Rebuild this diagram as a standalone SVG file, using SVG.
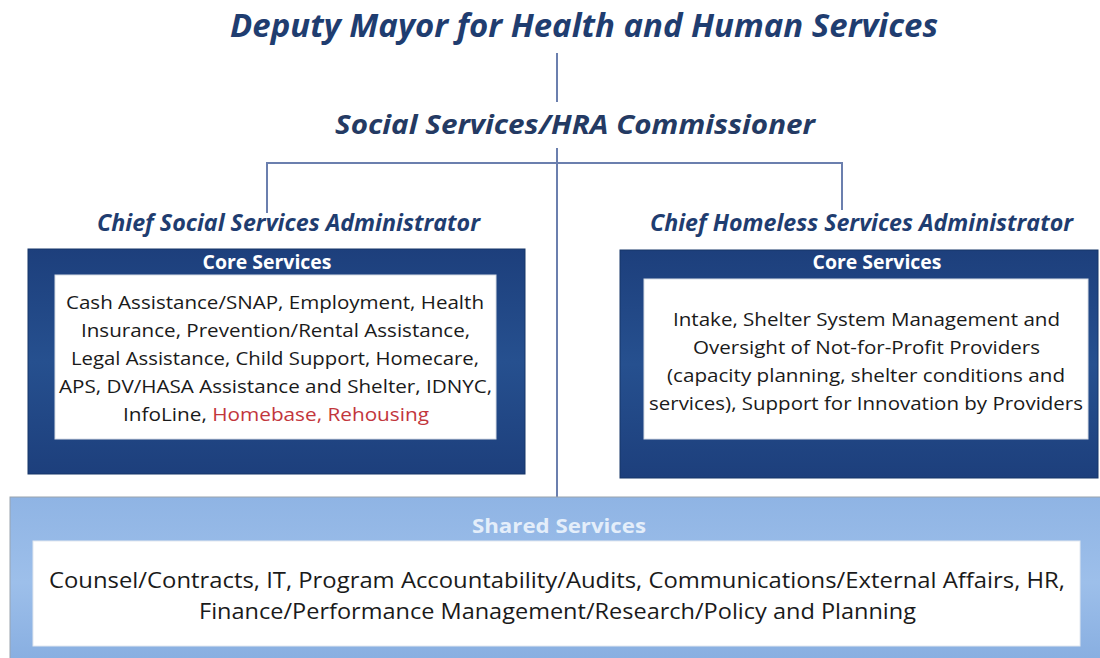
<svg xmlns="http://www.w3.org/2000/svg" width="1100" height="658" viewBox="0 0 1100 658">
<defs>
<style>
.title{font-family:"Open Sans","Liberation Sans",sans-serif;font-weight:bold;font-style:italic;fill:#1f3d70;text-anchor:middle}
.hdr{font-family:"Open Sans","Liberation Sans",sans-serif;font-weight:bold;fill:#ffffff;text-anchor:middle;font-size:19px}
.body{font-family:"Open Sans","Liberation Sans",sans-serif;fill:#1a1a1a;text-anchor:middle;font-size:19px}
.red{fill:#c2363c}
.conn{stroke:#6b7fae;stroke-width:2;fill:none}
.dark{fill:url(#gDark);stroke:#173669;stroke-width:1}
.inner{fill:#ffffff;stroke:#d8dde6;stroke-width:1}
</style>
<linearGradient id="gDark" x1="0" y1="0" x2="0" y2="1">
<stop offset="0" stop-color="#1d3f7c"/>
<stop offset="0.5" stop-color="#26508f"/>
<stop offset="1" stop-color="#1d3f7c"/>
</linearGradient>
<linearGradient id="gLight" x1="0" y1="0" x2="0" y2="1">
<stop offset="0" stop-color="#8fb4e4"/>
<stop offset="0.5" stop-color="#9dbfea"/>
<stop offset="1" stop-color="#86ade0"/>
</linearGradient>
</defs>
<rect width="1100" height="658" fill="#ffffff"/>

<g id="connectors">
<line class="conn" x1="557" y1="53" x2="557" y2="102"/>
<line class="conn" x1="557" y1="148" x2="557" y2="497"/>
<polyline class="conn" points="267,213 267,163 842,163 842,210"/>
</g>

<g id="deputy-mayor">
<text class="title" x="584" y="37" font-size="32" textLength="708" lengthAdjust="spacingAndGlyphs">Deputy Mayor for Health and Human Services</text>
</g>

<g id="commissioner">
<text class="title" x="575" y="134" font-size="27" fill="#243a63" textLength="480" lengthAdjust="spacingAndGlyphs" style="fill:#243a63">Social Services/HRA Commissioner</text>
</g>

<g id="chief-social">
<text class="title" x="288.5" y="231" font-size="23" textLength="383" lengthAdjust="spacingAndGlyphs">Chief Social Services Administrator</text>
<rect class="dark" x="28" y="249" width="497" height="225"/>
<text class="hdr" x="267" y="269" textLength="129" lengthAdjust="spacingAndGlyphs">Core Services</text>
<rect class="inner" x="55" y="275" width="441" height="164"/>
<text class="body" x="275" y="309" textLength="418" lengthAdjust="spacingAndGlyphs">Cash Assistance/SNAP, Employment, Health</text>
<text class="body" x="275.5" y="337" textLength="389" lengthAdjust="spacingAndGlyphs">Insurance, Prevention/Rental Assistance,</text>
<text class="body" x="275" y="365" textLength="408" lengthAdjust="spacingAndGlyphs">Legal Assistance, Child Support, Homecare,</text>
<text class="body" x="275.5" y="393" textLength="433" lengthAdjust="spacingAndGlyphs">APS, DV/HASA Assistance and Shelter, IDNYC,</text>
<text class="body" x="276" y="421" textLength="306" lengthAdjust="spacingAndGlyphs">InfoLine, <tspan class="red">Homebase, Rehousing</tspan></text>
</g>

<g id="chief-homeless">
<text class="title" x="861.5" y="231" font-size="23" textLength="423" lengthAdjust="spacingAndGlyphs">Chief Homeless Services Administrator</text>
<rect class="dark" x="620" y="250" width="478" height="228"/>
<text class="hdr" x="877" y="269" textLength="129" lengthAdjust="spacingAndGlyphs">Core Services</text>
<rect class="inner" x="644" y="279" width="444" height="160"/>
<text class="body" x="866.5" y="326" textLength="387" lengthAdjust="spacingAndGlyphs">Intake, Shelter System Management and</text>
<text class="body" x="866.5" y="354" textLength="347" lengthAdjust="spacingAndGlyphs">Oversight of Not-for-Profit Providers</text>
<text class="body" x="866" y="382" textLength="398" lengthAdjust="spacingAndGlyphs">(capacity planning, shelter conditions and</text>
<text class="body" x="866" y="410" textLength="434" lengthAdjust="spacingAndGlyphs">services), Support for Innovation by Providers</text>
</g>

<g id="shared-services">
<rect x="10" y="497" width="1100" height="170" fill="url(#gLight)" stroke="#9aa3ad" stroke-width="1"/>
<text x="559" y="533" font-family="Open Sans, Liberation Sans, sans-serif" font-weight="bold" font-size="20" fill="#e4eefa" text-anchor="middle" textLength="174" lengthAdjust="spacingAndGlyphs">Shared Services</text>
<rect x="33" y="541" width="1047" height="105" fill="#ffffff" stroke="#e2e8f0" stroke-width="1"/>
<text class="body" x="557" y="588" font-size="21" style="font-size:21px" textLength="1016" lengthAdjust="spacingAndGlyphs">Counsel/Contracts, IT, Program Accountability/Audits, Communications/External Affairs, HR,</text>
<text class="body" x="557.5" y="619" style="font-size:21px" textLength="717" lengthAdjust="spacingAndGlyphs">Finance/Performance Management/Research/Policy and Planning</text>
</g>
</svg>
